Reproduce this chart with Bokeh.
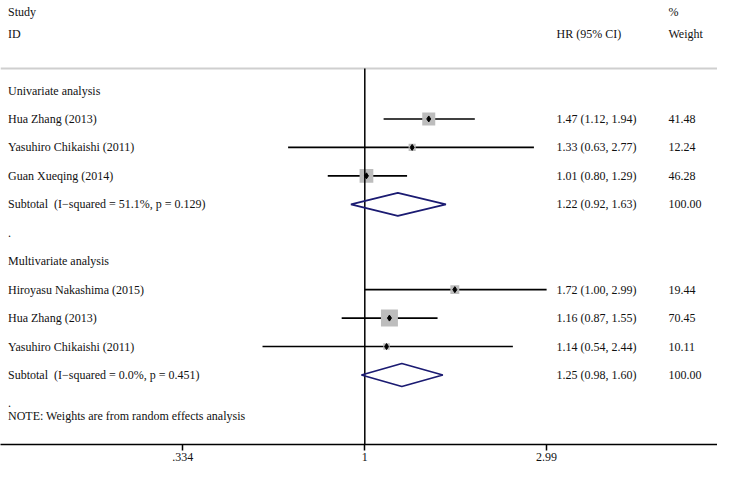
import numpy as np
from bokeh.plotting import figure
from bokeh.models import ColumnDataSource, Range1d, FixedTicker, CustomJSTickFormatter
from bokeh.core.properties import value
from bokeh.embed import file_html
from bokeh.resources import INLINE

# ---------------- data ----------------
uni_studies = ["Hua Zhang (2013)", "Yasuhiro Chikaishi (2011)", "Guan Xueqing (2014)"]
uni_hr = [1.47, 1.33, 1.01]
uni_lo = [1.12, 0.63, 0.80]
uni_hi = [1.94, 2.77, 1.29]
uni_w = [41.48, 12.24, 46.28]
uni_sub = [1.22, 0.92, 1.63]
uni_i2 = 51.1
uni_p = 0.129

multi_studies = ["Hiroyasu Nakashima (2015)", "Hua Zhang (2013)", "Yasuhiro Chikaishi (2011)"]
multi_hr = [1.72, 1.16, 1.14]
multi_lo = [1.00, 0.87, 0.54]
multi_hi = [2.99, 1.55, 2.44]
multi_w = [19.44, 70.45, 10.11]
multi_sub = [1.25, 0.98, 1.60]
multi_i2 = 0.0
multi_p = 0.451

group_titles = ["Univariate analysis", "Multivariate analysis"]
tick_values = [0.334, 1.0, 2.99]
tick_labels = [".334", "1", "2.99"]
note_text = "NOTE: Weights are from random effects analysis"

# ---------------- layout helpers (reference pixel -> data) ----------------
X0, XS = 364.3, 166.0     # pixel of HR=1, pixels per ln unit
Y0, YS = 90.0, 28.45      # pixel of first row, pixels per row
FW, FH = 717, 444         # frame size in pixels


def sx(px):
    return (px - X0) / XS


def sy(py):
    return -(py - Y0) / YS


FONT = value("Liberation Serif")
FS = "12px"
TXT = "#111111"
NAVY = "#1b1b72"

groups = [
    dict(title=group_titles[0], studies=uni_studies, hr=uni_hr, lo=uni_lo, hi=uni_hi,
         w=uni_w, sub=uni_sub, i2=uni_i2, p=uni_p),
    dict(title=group_titles[1], studies=multi_studies, hr=multi_hr, lo=multi_lo, hi=multi_hi,
         w=multi_w, sub=multi_sub, i2=multi_i2, p=multi_p),
]

left = dict(x=[], y=[], t=[])
ci_col = dict(x=[], y=[], t=[])
w_col = dict(x=[], y=[], t=[])
st = dict(y=[], hr=[], lo=[], hi=[], size=[])
dm = dict(xs=[], ys=[])

r = 0
for g in groups:
    left["y"].append(-r); left["t"].append(g["title"])
    r += 1
    for name, h, lo, hi, w in zip(g["studies"], g["hr"], g["lo"], g["hi"], g["w"]):
        left["y"].append(-r); left["t"].append(name)
        ci_col["y"].append(-r); ci_col["t"].append(f"{h:.2f} ({lo:.2f}, {hi:.2f})")
        w_col["y"].append(-r); w_col["t"].append(f"{w:.2f}")
        st["y"].append(-r); st["hr"].append(np.log(h)); st["lo"].append(np.log(lo))
        st["hi"].append(np.log(hi)); st["size"].append(2.02 * np.sqrt(w))
        r += 1
    est, lo, hi = g["sub"]
    left["y"].append(-r)
    left["t"].append(f"Subtotal \u00a0(I\u2212squared = {g['i2']:.1f}%, p = {g['p']:.3f})")
    ci_col["y"].append(-r); ci_col["t"].append(f"{est:.2f} ({lo:.2f}, {hi:.2f})")
    w_col["y"].append(-r); w_col["t"].append(f"{100:.2f}")
    hh = 0.404
    dm["xs"].append([np.log(lo), np.log(est), np.log(hi), np.log(est)])
    dm["ys"].append([-r, -r + hh, -r, -r - hh])
    r += 1
    left["y"].append(-r); left["t"].append(".")
    r += 1

left["x"] = [sx(7.5)] * len(left["y"])
ci_col["x"] = [sx(556)] * len(ci_col["y"])
w_col["x"] = [sx(668)] * len(w_col["y"])

p = figure(frame_width=FW, frame_height=FH,
           x_range=Range1d(sx(0), sx(FW)), y_range=Range1d(sy(FH), sy(0)),
           output_backend="svg", toolbar_location=None, min_border=0,
           y_axis_location=None, background_fill_color="white",
           border_fill_color="white")
p.outline_line_color = None
p.grid.visible = False

# header separator
p.segment(x0=[sx(0)], x1=[sx(FW)], y0=[sy(68)], y1=[sy(68)],
          line_color="#cfcfcf", line_width=2)

# CI lines, weight boxes, point estimates
src = ColumnDataSource(st)
p.segment(x0="lo", x1="hi", y0="y", y1="y", source=src, line_color="black", line_width=1.6)
p.scatter(x="hr", y="y", size="size", marker="square", source=src,
          fill_color="#bdbdbd", line_color=None)
p.scatter(x="hr", y="y", size=6, marker="diamond", source=src,
          fill_color="black", line_color="black")

# null line
p.segment(x0=[0], x1=[0], y0=[sy(68)], y1=[sy(FH)], line_color="black", line_width=1.5)

# subtotal diamonds
p.patches(xs="xs", ys="ys", source=ColumnDataSource(dm), fill_color=None,
          line_color=NAVY, line_width=1.8)

# texts
for d in (left, ci_col, w_col):
    p.text(x="x", y="y", text="t", source=ColumnDataSource(d), text_font=FONT,
           text_font_size=FS, text_baseline="middle", text_align="left", text_color=TXT)

hdr = dict(x=[sx(7.5), sx(7.5), sx(556), sx(668), sx(668)],
           y=[sy(11), sy(33), sy(33), sy(11), sy(33)],
           t=["Study", "ID", "HR (95% CI)", "%", "Weight"])
p.text(x="x", y="y", text="t", source=ColumnDataSource(hdr), text_font=FONT,
       text_font_size=FS, text_baseline="middle", text_align="left", text_color=TXT)

p.text(x=[sx(7.5)], y=[sy(415)], text=[note_text], text_font=FONT, text_font_size=FS,
       text_baseline="middle", text_align="left", text_color=TXT)

# axis
ax = p.xaxis[0]
ax.ticker = FixedTicker(ticks=[float(np.log(v)) for v in tick_values])
ax.formatter = CustomJSTickFormatter(
    args=dict(vals=[float(np.log(v)) for v in tick_values], labs=tick_labels),
    code="""
let b = 0;
for (let i = 0; i < vals.length; i++) {
  if (Math.abs(vals[i] - tick) < Math.abs(vals[b] - tick)) b = i;
}
return labs[b];
""")
ax.axis_line_color = "black"
ax.axis_line_width = 1.5
ax.major_tick_line_color = "black"
ax.major_tick_line_width = 1.5
ax.major_tick_out = 6
ax.major_tick_in = 0
ax.minor_tick_line_color = None
ax.major_label_standoff = 2
ax.major_label_text_font = "Liberation Serif"
ax.major_label_text_font_size = FS
ax.major_label_text_color = TXT

open("out.html", "w").write(file_html(p, INLINE))
